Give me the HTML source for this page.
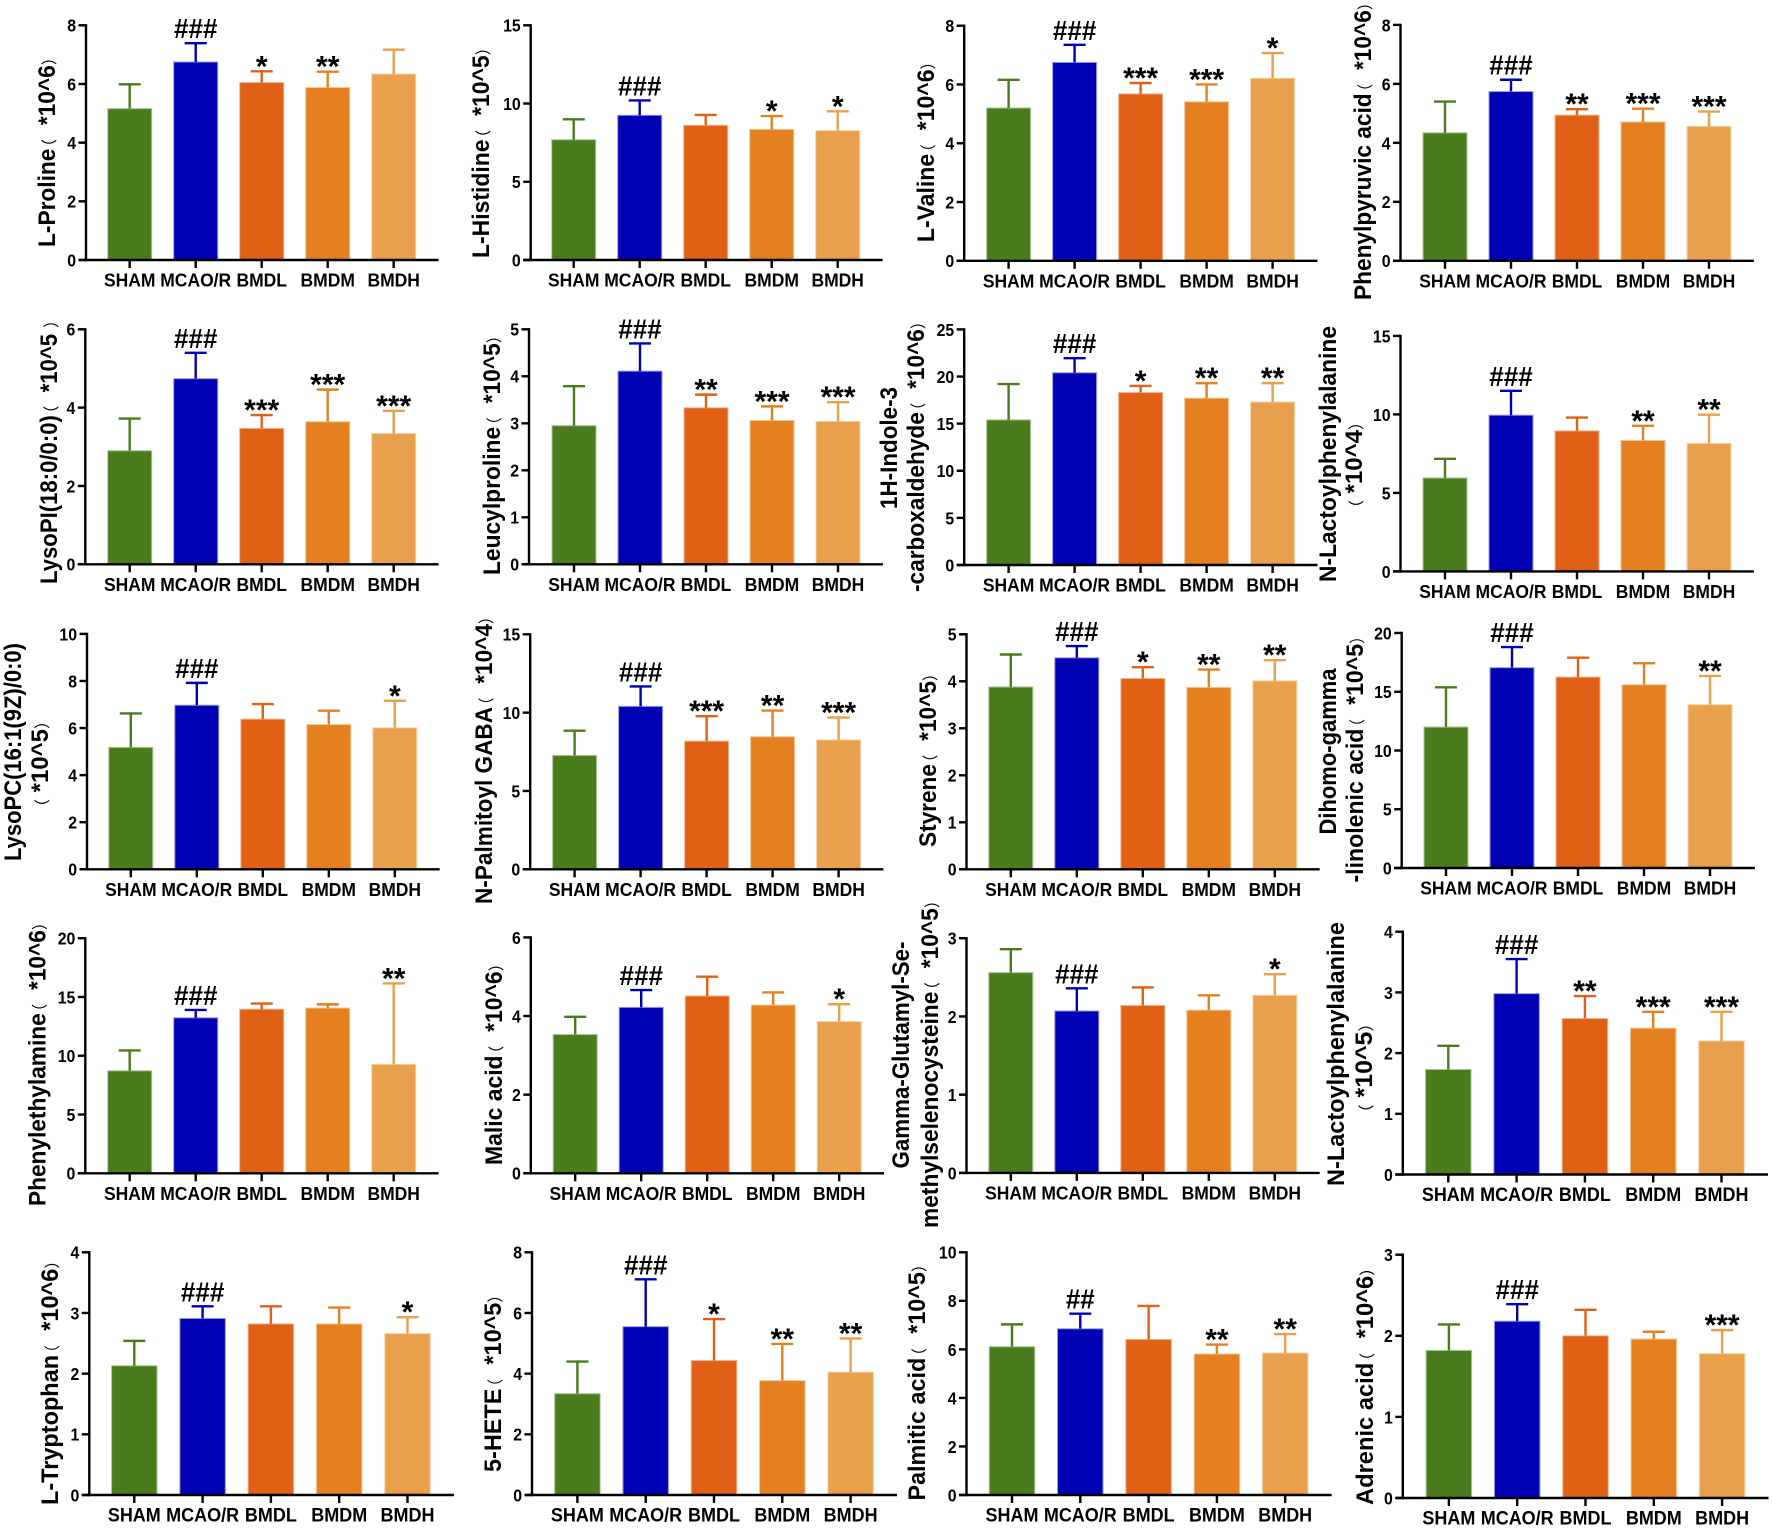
<!DOCTYPE html>
<html lang="en">
<head>
<meta charset="utf-8">
<title>Metabolite bar charts</title>
<style>
  html,body{margin:0;padding:0;background:#fff;width:1772px;height:1528px;overflow:hidden}
  svg{display:block;filter:blur(0.35px)}
  text{font-family:"Liberation Sans","Noto Sans CJK SC",sans-serif;font-weight:700;fill:#000;white-space:pre}
  .paren{font-weight:400;font-size:16px}
</style>
</head>
<body>
<svg id="figure" xmlns="http://www.w3.org/2000/svg" width="1772" height="1528" viewBox="0 0 1772 1528"></svg>
<script>
const categories = ['SHAM','MCAO/R','BMDL','BMDM','BMDH'];
const metabolites = ['L-Proline','L-Histidine','L-Valine','Phenylpyruvic acid','LysoPI(18:0/0:0)','Leucylproline','1H-Indole-3-carboxaldehyde','N-Lactoylphenylalanine (1e4)','LysoPC(16:1(9Z)/0:0)','N-Palmitoyl GABA','Styrene','Dihomo-gamma-linolenic acid','Phenylethylamine','Malic acid','Gamma-Glutamyl-Se-methylselenocysteine','N-Lactoylphenylalanine (1e5)','L-Tryptophan','5-HETE','Palmitic acid','Adrenic acid'];
const tickLabels = [
  [0,2,4,6,8],[0,5,10,15],[0,2,4,6,8],[0,2,4,6,8],
  [0,2,4,6],[0,1,2,3,4,5],[0,5,10,15,20,25],[0,5,10,15],
  [0,2,4,6,8,10],[0,5,10,15],[0,1,2,3,4,5],[0,5,10,15,20],
  [0,5,10,15,20],[0,2,4,6],[0,1,2,3],[0,1,2,3,4],
  [0,1,2,3,4],[0,2,4,6,8],[0,2,4,6,8,10],[0,1,2,3]
];
const means = [
  [5.16,6.75,6.05,5.88,6.34],[7.69,9.25,8.61,8.35,8.27],[5.2,6.75,5.68,5.41,6.21],[4.34,5.74,4.94,4.71,4.56],
  [2.9,4.74,3.47,3.64,3.34],[2.95,4.11,3.33,3.06,3.04],[15.4,20.4,18.3,17.7,17.3],[5.95,9.95,8.95,8.34,8.15],
  [5.18,6.97,6.38,6.15,6.01],[7.27,10.4,8.18,8.46,8.26],[3.88,4.5,4.06,3.87,4.01],[12.0,17.05,16.25,15.6,13.9],
  [8.72,13.23,13.96,14.06,9.27],[3.53,4.22,4.51,4.28,3.86],[2.56,2.07,2.14,2.08,2.27],[1.73,2.98,2.57,2.41,2.2],
  [2.13,2.91,2.82,2.82,2.66],[3.34,5.55,4.43,3.77,4.05],[6.11,6.85,6.41,5.81,5.85],[1.82,2.18,2.0,1.96,1.78]
];
const errorTops = [
  [5.99,7.39,6.43,6.42,7.17],[8.99,10.2,9.27,9.2,9.5],[6.16,7.35,6.05,6.0,7.07],[5.4,6.14,5.14,5.16,5.06],
  [3.72,5.4,3.81,4.46,3.92],[3.79,4.7,3.61,3.36,3.45],[19.2,21.95,19.0,19.3,19.3],[7.17,11.5,9.8,9.27,9.98],
  [6.62,7.92,7.02,6.74,7.16],[8.85,11.67,9.77,10.13,9.69],[4.57,4.75,4.3,4.25,4.45],[15.38,18.8,17.9,17.43,16.35],
  [10.45,13.9,14.44,14.37,16.15],[3.98,4.66,5.0,4.6,4.3],[2.86,2.36,2.37,2.27,2.54],[2.12,3.55,2.94,2.68,2.68],
  [2.54,3.11,3.11,3.09,2.93],[4.4,7.11,5.8,4.98,5.16],[7.03,7.47,7.79,6.2,6.63],[2.14,2.39,2.32,2.05,2.07]
];
const significance = [
  ['','###','*','**',''],['','###','','*','*'],['','###','***','***','*'],['','###','**','***','***'],
  ['','###','***','***','***'],['','###','**','***','***'],['','###','*','**','**'],['','###','','**','**'],
  ['','###','','','*'],['','###','***','**','***'],['','###','*','**','**'],['','###','','','**'],
  ['','###','','','**'],['','###','','','*'],['','###','','','*'],['','###','**','***','***'],
  ['','###','','','*'],['','###','*','**','**'],['','##','','**','**'],['','###','','','***']
];
const titleLines = [
  ['L-Proline（ *10^6）'],['L-Histidine（ *10^5）'],['L-Valine（ *10^6）'],['Phenylpyruvic acid（ *10^6）'],
  ['LysoPI(18:0/0:0)（ *10^5 ）'],['Leucylproline（ *10^5）'],['1H-Indole-3','-carboxaldehyde（ *10^6）'],['N-Lactoylphenylalanine','（ *10^4）'],
  ['LysoPC(16:1(9Z)/0:0)','（ *10^5）'],['N-Palmitoyl GABA（ *10^4）'],['Styrene（ *10^5）'],['Dihomo-gamma','-linolenic acid（ *10^5）'],
  ['Phenylethylamine（ *10^6）'],['Malic acid（ *10^6）'],['Gamma-Glutamyl-Se-','methylselenocysteine（ *10^5）'],['N-Lactoylphenylalanine','（ *10^5）'],
  ['L-Tryptophan（ *10^6）'],['5-HETE（ *10^5）'],['Palmitic acid（ *10^5）'],['Adrenic acid（ *10^6）']
];

/* Layout only: axis origin x, baseline y, top-tick y, first-category x, category pitch, bar width */
const frames = [
  [86,260,25.3,129.7,66,44],[530.7,260,25.3,573.7,66,44],[964.2,260.8,25.7,1008.6,66,44],[1400.5,260.8,24.9,1445,66,44],
  [85.3,564.3,329.3,129.7,66,44],[529,564.3,329.3,574,66,44],[964.2,565,329.4,1008.6,66,44],[1400.5,571.4,335.9,1445,66,44],
  [87,869.3,633.9,130.8,66,44],[530.2,869.3,634.3,574.6,66,44],[966.5,869.3,634.3,1010.8,66,44],[1401.7,868,633,1446,66,44],
  [85.3,1173.3,938.2,129.7,66,44],[530.8,1173.3,937.4,575.2,66,44],[966.5,1172.9,938.2,1010.8,66,44],[1402.8,1174.5,931.7,1448.3,68.3,45.5],
  [89.3,1495,1252.3,134.3,68.3,45.5],[532,1495,1252.3,577.4,68.3,45.5],[966.5,1495,1252.3,1012,68.3,45.5],[1402.8,1498,1254.7,1448.9,68.3,45.5]
];
/* Layout only: each title line's baseline x, vertical centre and inked length */
const titleFrames = [
  [[55,152,190]],[[489,152.5,211]],[[934,151.6,181]],[[1371,151,298]],
  [[57,452,264]],[[500,455,240]],[[897,448,122],[924,456.5,271]],[[1336,454,256],[1362,459,88]],
  [[21,752,218],[48,758,88]],[[492,760,288]],[[936,760,174]],[[1336,751.5,166],[1363,759,247]],
  [[45.5,1064,284]],[[502,1064,202]],[[909,1055,227],[938,1064,328]],[[1344,1054,264],[1372,1062,92]],
  [[58,1382.5,245]],[[501,1383,178]],[[925,1382,237]],[[1373,1386,238]]
];
const barColors = ['#4a7c1e','#0000b5','#e06016','#e58020','#e8a04c'];
const barEdges = ['#a9c994','#9a9ae6','#f3b48e','#f6c595','#f6d3a8'];

const NS = 'http://www.w3.org/2000/svg';
const figure = document.getElementById('figure');

function make(tag, parent, attrs){
  const el = document.createElementNS(NS, tag);
  for (const k in attrs) el.setAttribute(k, attrs[k]);
  parent.appendChild(el);
  return el;
}
function slug(s){ return s.toLowerCase().replace(/[^a-z0-9]+/g,'-').replace(/^-|-$/g,''); }

metabolites.forEach(function(name, p){
  const f = frames[p];
  const axisX = f[0], y0 = f[1], yTop = f[2], c0 = f[3], pitch = f[4], barW = f[5];
  const ticks = tickLabels[p];
  const maxV = ticks[ticks.length - 1];
  const yScale = function(v){ return y0 - (v / maxV) * (y0 - yTop); };
  const xScale = function(i){ return c0 + pitch * i; };
  const fs = pitch > 67 ? 18 : 17.5;

  const g = make('g', figure, {});
  
  

  categories.forEach(function(cat, i){
    const top = yScale(means[p][i]);
    const upper = yScale(errorTops[p][i]);
    const cx = xScale(i);

    const bar = make('rect', g, {x: cx - barW/2, y: top, width: barW, height: y0 - top, fill: barColors[i], stroke: barEdges[i], 'stroke-width': 1});
    
    

    const stem = make('line', g, {x1: cx, x2: cx, y1: top, y2: upper, stroke: barColors[i], 'stroke-width': 2.4});
    
    

    const cap = make('line', g, {x1: cx - 11, x2: cx + 11, y1: upper, y2: upper, stroke: barColors[i], 'stroke-width': 2.4});
    
    

    const mark = significance[p][i];
    if (mark) {
      const hash = mark.charAt(0) === '#';
      const markY = hash ? upper - 5 : upper + 5;
      const sig = make('text', g, {transform: 'translate(' + cx + ',' + markY + ') scale(' + (hash ? 0.93 : 1) + ',1)', 'text-anchor': 'middle', 'font-size': hash ? 28 : 30});
      sig.textContent = mark;
      
      
    }

    const tick = make('line', g, {x1: cx, x2: cx, y1: y0, y2: y0 + 8, stroke: '#000', 'stroke-width': 2.4});
    
    

    const label = make('text', g, {transform: 'translate(' + cx + ',' + (y0 + 26.7) + ') scale(1,1.06)', 'text-anchor': 'middle', 'font-size': fs});
    label.textContent = cat;
    
    
  });

  const yAxis = make('line', g, {x1: axisX, x2: axisX, y1: yTop - 1.2, y2: y0 + 1.2, stroke: '#000', 'stroke-width': 2.4});
  
  

  const xAxis = make('line', g, {x1: axisX - 7.5, x2: xScale(4) + pitch * 0.68, y1: y0, y2: y0, stroke: '#000', 'stroke-width': 2.4});
  
  

  ticks.forEach(function(v){
    const y = yScale(v);
    const tick = make('line', g, {x1: axisX - 7.5, x2: axisX, y1: y, y2: y, stroke: '#000', 'stroke-width': 2.4});
    
    

    const label = make('text', g, {transform: 'translate(' + (axisX - 10) + ',' + (y + 6.4) + ') scale(0.88,1)', 'text-anchor': 'end', 'font-size': 18});
    label.textContent = String(v);
    
    
  });

  titleLines[p].forEach(function(line, k){
    const tf = titleFrames[p][k];
    const lead = line.charAt(0) === '（' ? 7 : 0;
    const trail = line.charAt(line.length - 1) === '）' ? 7 : 0;
    const startY = tf[1] + tf[2]/2 + lead;
    const title = make('text', g, {transform: 'translate(' + tf[0] + ',' + startY + ') rotate(-90)', 'font-size': 24, textLength: tf[2] + lead + trail, lengthAdjust: 'spacingAndGlyphs'});
    line.split(/([（）])/).forEach(function(part, idx){
      if (!part) return;
      const attrs = (part === '（' || part === '）') ? {class: 'paren'} : {};
      if (part === '（' && idx > 0) attrs.dx = -6;
      if (idx === 2 && part.charAt(0) === ' ' && line.charAt(0) !== '（') attrs.dx = 8;
      const span = make('tspan', title, attrs);
      span.textContent = part;
    });
    
    
  });
});
</script>
</body>
</html>
